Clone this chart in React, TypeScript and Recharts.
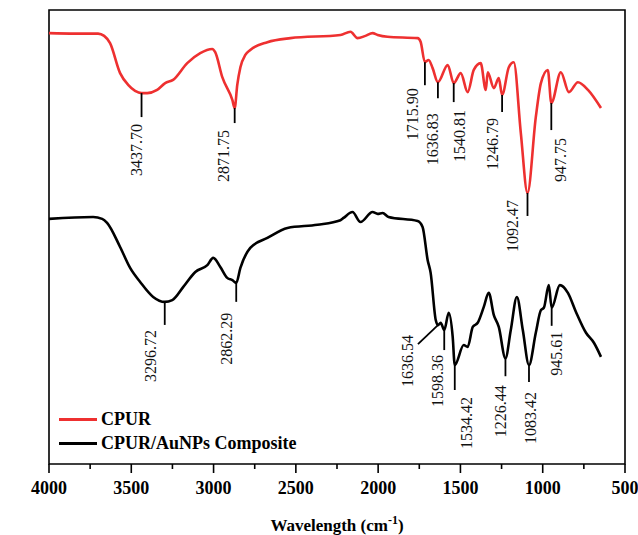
import { ComposedChart, Line, Scatter, XAxis, YAxis, ReferenceArea, Legend } from 'recharts';

const SERIF = "'Liberation Serif', 'Times New Roman', serif";

// CPUR spectrum: wavenumber (cm-1) and transmittance (%, arbitrary offset)
const cpurWn = [4000, 3842, 3702, 3665, 3629, 3568, 3519, 3477, 3437.7, 3403, 3343, 3294, 3246, 3160, 3081, 3008, 2990, 2947, 2886, 2871.75, 2856, 2837, 2807, 2777, 2673, 2533, 2229, 2168, 2125, 2077, 2034, 2003, 1943, 1760, 1742, 1715.9, 1693, 1669, 1636.83, 1577, 1540.81, 1498, 1456, 1419, 1377, 1346, 1334, 1297, 1267, 1246.79, 1206, 1176, 1133, 1092.47, 1042, 1011, 969, 947.75, 890, 841, 786, 725, 646];
const cpurT = [94.9, 94.8, 94.8, 94.3, 92.7, 86.1, 83.5, 82.2, 81.7, 81.7, 82.4, 83.9, 84.6, 88.3, 90.5, 91.4, 90.7, 85.2, 80.2, 78.4, 83.5, 87.4, 90.1, 91.2, 92.9, 93.8, 94.5, 95.2, 93.8, 94.3, 94.9, 94.5, 94.1, 93.8, 93.0, 88.5, 89.0, 87.2, 84.1, 87.9, 83.9, 86.1, 81.9, 86.8, 88.3, 82.4, 86.3, 82.8, 85.0, 81.3, 87.4, 88.5, 72.9, 59.7, 76.4, 83.9, 86.8, 79.5, 86.3, 81.9, 84.1, 82.4, 78.4];

// CPUR/AuNPs composite spectrum
const compWn = [4000, 3732, 3677, 3647, 3568, 3507, 3446, 3367, 3296.72, 3251, 3184, 3111, 3038, 3002, 2959, 2917, 2886, 2862.29, 2837, 2777, 2673, 2551, 2369, 2229, 2210, 2156, 2107, 2034, 2003, 1973, 1937, 1760, 1730, 1699, 1681, 1650, 1636.54, 1620, 1598.36, 1571, 1547, 1534.42, 1480, 1456, 1425, 1395, 1358, 1328, 1297, 1267, 1226.44, 1194, 1157, 1121, 1083.42, 1042, 1011, 993, 963, 945.61, 896, 847, 798, 737, 689, 646];
const compT = [54.0, 54.4, 54.0, 53.1, 47.8, 43.2, 40.1, 36.8, 35.7, 36.1, 39.0, 42.3, 43.8, 45.4, 43.4, 41.0, 40.5, 39.9, 43.2, 47.6, 49.8, 52.0, 52.7, 53.7, 54.2, 55.5, 53.3, 55.5, 55.1, 55.3, 54.4, 53.5, 52.2, 44.9, 42.1, 31.7, 30.6, 31.1, 29.5, 33.3, 28.0, 21.8, 26.2, 25.8, 30.2, 31.1, 34.6, 37.7, 32.8, 30.2, 23.3, 29.5, 36.8, 29.5, 21.8, 28.9, 33.9, 34.4, 39.4, 34.4, 39.4, 37.7, 33.5, 28.9, 26.7, 23.6];

// assigned band positions (cm-1)
const cpurPeaks = [3437.7, 2871.75, 1715.9, 1636.83, 1540.81, 1246.79, 1092.47, 947.75];
const compPeaks = [3296.72, 2862.29, 1636.54, 1598.36, 1534.42, 1226.44, 1083.42, 945.61];

const xTicks = [4000, 3750, 3500, 3250, 3000, 2750, 2500, 2250, 2000, 1750, 1500, 1250, 1000, 750, 500];

// leader line end (dx, dy) and label offset (tx, ty) for each band label, in px
const cpurLabelPos = [
  { dx: 0, dy: 24, tx: -5, ty: 7 },
  { dx: 0, dy: 15, tx: -11, ty: 7 },
  { dx: 0, dy: 23, tx: -12, ty: 3 },
  { dx: 0, dy: 16, tx: -5, ty: 15 },
  { dx: 0, dy: 19, tx: 6, ty: 8 },
  { dx: 0, dy: 17, tx: -10, ty: 6 },
  { dx: 0, dy: 23, tx: -15, ty: -16 },
  { dx: 0, dy: 27, tx: 9, ty: 8 },
];
const compLabelPos = [
  { dx: 0, dy: 23, tx: -14, ty: 5 },
  { dx: 0, dy: 19, tx: -10, ty: 11 },
  { dx: -20, dy: 19, tx: -10, ty: -9 },
  { dx: 0, dy: 20, tx: -7, ty: 5 },
  { dx: 0, dy: 25, tx: 12, ty: 7 },
  { dx: 0, dy: 18, tx: -5, ty: 9 },
  { dx: 0, dy: 17, tx: 2, ty: 10 },
  { dx: 0, dy: 18, tx: 5, ty: 6 },
];

const toSeries = (wn: number[], t: number[]) => wn.map((w, i) => ({ wn: w, t: t[i] }));

const toMarks = (peaks: number[], wn: number[], t: number[], pos: typeof cpurLabelPos) =>
  peaks.map((p, i) => ({ wn: p, t: t[wn.indexOf(p)], ...pos[i] }));

const cpurData = toSeries(cpurWn, cpurT);
const compData = toSeries(compWn, compT);
const cpurMarks = toMarks(cpurPeaks, cpurWn, cpurT, cpurLabelPos);
const compMarks = toMarks(compPeaks, compWn, compT, compLabelPos);

function PeakMark(props: any) {
  const { cx, cy, payload } = props;
  if (cx == null || cy == null) return null;
  const ex = cx + payload.dx;
  const ey = cy + payload.dy;
  const ax = ex + payload.tx + 5.5;
  const ay = ey + payload.ty;
  return (
    <g>
      <line x1={cx} y1={cy} x2={ex} y2={ey} stroke="#000" strokeWidth={1.8} />
      <text
        x={ax}
        y={ay}
        transform={`rotate(-90, ${ax}, ${ay})`}
        textAnchor="end"
        fontFamily={SERIF}
        fontSize={16}
        fill="#111"
      >
        {payload.wn.toFixed(2)}
      </text>
    </g>
  );
}

function XTick(props: any) {
  const { x, y, payload } = props;
  const major = payload.value % 500 === 0;
  return (
    <g>
      <line x1={x} y1={y} x2={x} y2={y + (major ? 9 : 5)} stroke="#000" strokeWidth={1.6} />
      {major && (
        <text x={x} y={y + 30} textAnchor="middle" fontFamily={SERIF} fontWeight="bold" fontSize={18} fill="#000">
          {payload.value}
        </text>
      )}
    </g>
  );
}

function XTitle(props: any) {
  const vb = props.viewBox || { x: 49, y: 464, width: 576 };
  return (
    <text x={vb.x + vb.width / 2} y={vb.y + 67} textAnchor="middle" fontFamily={SERIF} fontWeight="bold" fontSize={17} fill="#000">
      Wavelength (cm
      <tspan dy={-7} fontSize={12}>-1</tspan>
      <tspan dy={7}>)</tspan>
    </text>
  );
}

function YTitle(props: any) {
  const vb = props.viewBox || { x: 49, y: 10, height: 454 };
  const x = vb.x - 23;
  const y = vb.y + 245;
  return (
    <text
      x={x}
      y={y}
      transform={`rotate(-90, ${x}, ${y})`}
      textAnchor="middle"
      fontFamily={SERIF}
      fontWeight="bold"
      fontSize={17}
      letterSpacing={1.2}
      fill="#000"
    >
      Transmittance (%)
    </text>
  );
}

function LegendBox(props: any) {
  const items = (props.payload || []).filter((p: any) => p.type !== 'none');
  return (
    <div style={{ fontFamily: SERIF, fontWeight: 'bold', fontSize: 18, color: '#000' }}>
      {items.map((entry: any) => (
        <div key={entry.value} style={{ display: 'flex', alignItems: 'center', height: 24 }}>
          <span style={{ display: 'inline-block', width: 38, borderTop: `3px solid ${entry.color}`, marginRight: 4 }} />
          {entry.value}
        </div>
      ))}
    </div>
  );
}

export default function App() {
  return (
    <div style={{ position: 'absolute', left: 0, top: 0, background: '#fff' }}>
      <ComposedChart width={638} height={535} margin={{ top: 10, right: 13, bottom: 0, left: 49 }}>
        <XAxis
          dataKey="wn"
          type="number"
          domain={[500, 4000]}
          reversed
          ticks={xTicks}
          interval={0}
          height={71}
          axisLine={false}
          tickLine={false}
          tickSize={0}
          tickMargin={0}
          tick={<XTick />}
          label={<XTitle />}
        />
        <YAxis
          dataKey="t"
          type="number"
          domain={[0, 100]}
          width={0}
          axisLine={false}
          tickLine={false}
          tick={false}
          label={<YTitle />}
        />
        <ReferenceArea x1={4000} x2={500} y1={0} y2={100} fill="none" stroke="#000" strokeWidth={1.6} ifOverflow="visible" />
        <Line
          data={cpurData}
          dataKey="t"
          name="CPUR"
          type="monotone"
          stroke="#ee3030"
          strokeWidth={2.6}
          dot={false}
          activeDot={false}
          isAnimationActive={false}
        />
        <Line
          data={compData}
          dataKey="t"
          name="CPUR/AuNPs Composite"
          type="monotone"
          stroke="#000"
          strokeWidth={2.6}
          dot={false}
          activeDot={false}
          isAnimationActive={false}
        />
        <Scatter data={cpurMarks} dataKey="t" shape={(p: any) => <PeakMark {...p} />} legendType="none" isAnimationActive={false} />
        <Scatter data={compMarks} dataKey="t" shape={(p: any) => <PeakMark {...p} />} legendType="none" isAnimationActive={false} />
        <Legend
          layout="vertical"
          align="center"
          verticalAlign="middle"
          content={<LegendBox />}
          wrapperStyle={{ left: 59, top: 407, width: 'auto' }}
        />
      </ComposedChart>
    </div>
  );
}
